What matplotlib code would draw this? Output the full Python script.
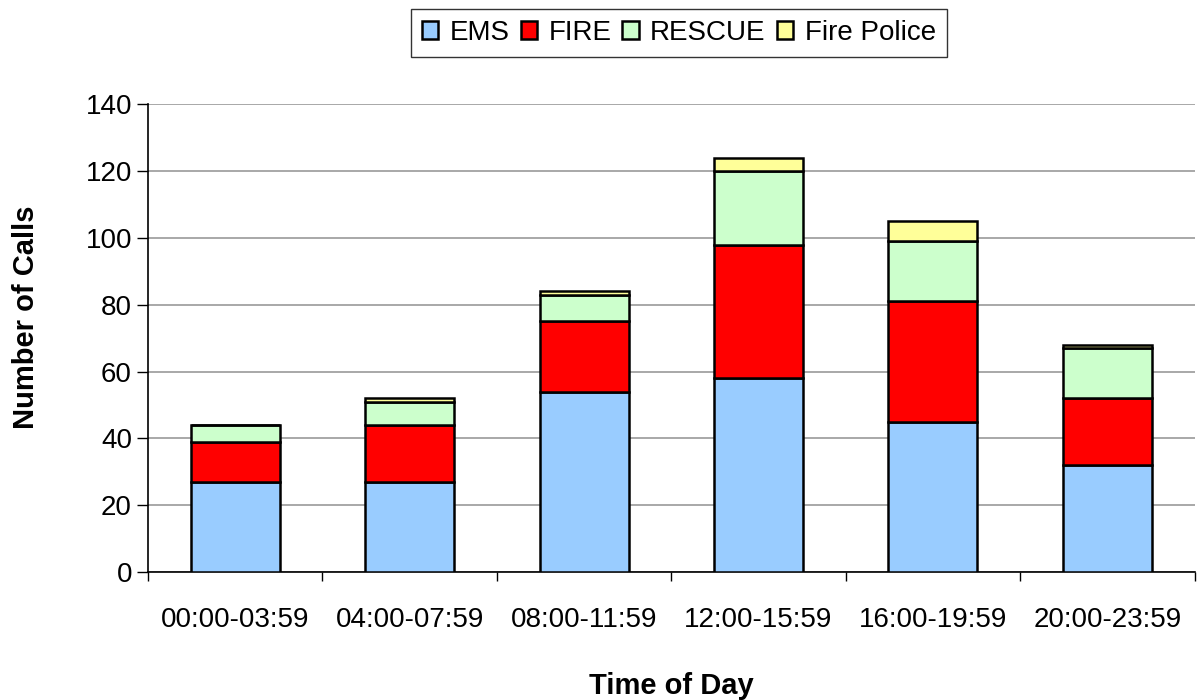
import numpy as np
import matplotlib
matplotlib.use("Agg")
import matplotlib.pyplot as plt

plt.rcParams['font.family'] = ['Liberation Sans', 'DejaVu Sans']

# data
periods = ["00:00-03:59", "04:00-07:59", "08:00-11:59",
           "12:00-15:59", "16:00-19:59", "20:00-23:59"]
ems = [27, 27, 54, 58, 45, 32]
fire = [12, 17, 21, 40, 36, 20]
rescue = [5, 7, 8, 22, 18, 15]
fire_police = [0, 1, 1, 4, 6, 1]

series = [("EMS", ems, "#99ccff"),
          ("FIRE", fire, "#ff0000"),
          ("RESCUE", rescue, "#ccffcc"),
          ("Fire Police", fire_police, "#ffff99")]

fig = plt.figure(figsize=(11.97, 7.0), dpi=100)
ax = fig.add_axes([0.1236, 0.183, 0.8744, 0.668])

x = np.arange(len(periods))
bottom = np.zeros(len(periods))
for name, vals, col in series:
    ax.bar(x, vals, 0.51, bottom=bottom, color=col, edgecolor="black",
           linewidth=1.8, label=name, zorder=3)
    bottom += np.array(vals)

ax.set_xlim(-0.5, len(periods) - 0.5)
ax.set_ylim(0, 140)
ax.set_yticks(np.arange(0, 141, 20))
ax.yaxis.grid(True, color="#999999", linewidth=1.2, zorder=0)

ax.set_xticks(x)
ax.set_xticklabels(periods, fontsize=20)
ax.set_xticks(np.arange(-0.5, len(periods)), minor=True)
ax.tick_params(axis="x", which="major", length=0, pad=25)
ax.tick_params(axis="x", which="minor", length=6.5, width=1, direction="out")
ax.tick_params(axis="y", labelsize=20, length=8, width=1, direction="out")

for s in ["top", "right"]:
    ax.spines[s].set_visible(False)
for s in ["left", "bottom"]:
    ax.spines[s].set_linewidth(1.2)

ax.set_ylabel("Number of Calls", fontsize=21, fontweight="bold", labelpad=33, y=0.545)
ax.set_xlabel("Time of Day", fontsize=21, fontweight="bold", labelpad=28)

leg = fig.legend(loc="upper center", bbox_to_anchor=(0.567, 1.007), ncol=4,
                 fontsize=20, frameon=True, fancybox=False, edgecolor="black",
                 handlelength=0.6, handleheight=0.6, handletextpad=0.4,
                 columnspacing=0.4, borderpad=0.4)
leg.get_frame().set_linewidth(1.0)

fig.savefig("out.png", dpi=100)
